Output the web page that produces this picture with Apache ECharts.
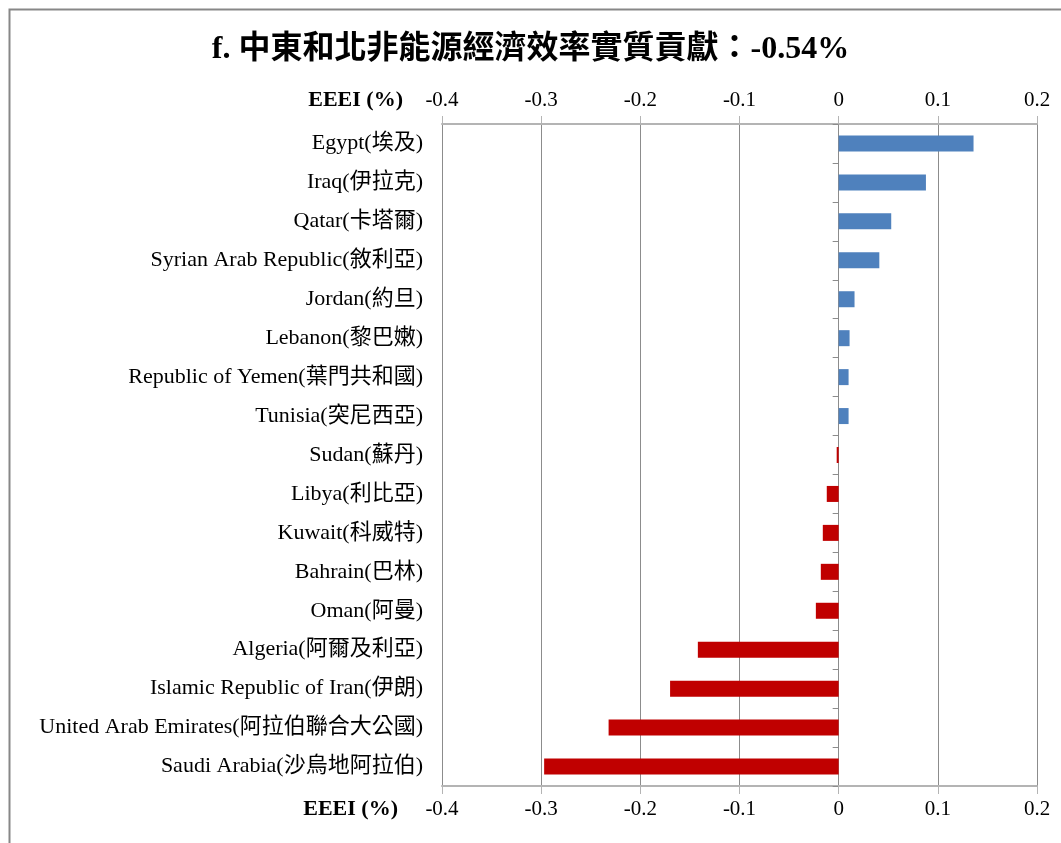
<!DOCTYPE html>
<html>
<head>
<meta charset="utf-8">
<script src="https://cdn.jsdelivr.net/npm/echarts@6/dist/echarts.min.js"></script>
<style>
  html, body { margin: 0; padding: 0; background: #ffffff; }
  #chart { width: 1061px; height: 843px; }
</style>
</head>
<body>
<div id="chart"></div>
<script>
// Contribution of energy-economy efficiency by country, Middle East & North Africa (%)
const titleText = 'f. 中東和北非能源經濟效率實質貢獻：-0.54%';
const axisName = 'EEEI (%)';

const countries = [
  'Egypt(埃及)',
  'Iraq(伊拉克)',
  'Qatar(卡塔爾)',
  'Syrian Arab Republic(敘利亞)',
  'Jordan(約旦)',
  'Lebanon(黎巴嫩)',
  'Republic of Yemen(葉門共和國)',
  'Tunisia(突尼西亞)',
  'Sudan(蘇丹)',
  'Libya(利比亞)',
  'Kuwait(科威特)',
  'Bahrain(巴林)',
  'Oman(阿曼)',
  'Algeria(阿爾及利亞)',
  'Islamic Republic of Iran(伊朗)',
  'United Arab Emirates(阿拉伯聯合大公國)',
  'Saudi Arabia(沙烏地阿拉伯)'
];

const eeei = [
  0.136, 0.088, 0.053, 0.041, 0.016, 0.011, 0.010, 0.010,
  -0.002, -0.012, -0.016, -0.018, -0.023, -0.142, -0.170, -0.232, -0.297
];

const xMin = -0.4;
const xMax = 0.2;
const xStep = 0.1;

const positiveColor = '#4f81bd';
const negativeColor = '#c00000';

const serif = "'Liberation Serif', 'Times New Roman', 'Noto Sans CJK TC', serif";

const gridLeft = 442, gridRight = 24, gridTop = 124, gridBottom = 57;
const plotWidth = 1061 - gridLeft - gridRight;
// shift of the tick-only category axis so it sits on x = 0
const zeroShift = (0 - xMin) / (xMax - xMin) * plotWidth;

const chart = echarts.init(document.getElementById('chart'), null, { renderer: 'canvas' });

const valueAxisBase = {
  type: 'value',
  min: xMin,
  max: xMax,
  interval: xStep,
  axisLine: { show: true, lineStyle: { color: '#b4b4b4', width: 2 } },
  axisTick: { show: true, length: 8, lineStyle: { color: '#b4b4b4', width: 1 } },
  axisLabel: {
    color: '#000',
    fontFamily: serif,
    fontSize: 21,
    margin: 13
  }
};

chart.setOption({
  animation: false,
  backgroundColor: '#ffffff',
  title: {
    text: titleText,
    left: 'center',
    top: 29,
    textStyle: {
      fontFamily: serif,
      fontWeight: 'bold',
      fontSize: 32,
      color: '#000'
    }
  },
  graphic: [
    {
      type: 'rect',
      left: 7, top: 7,
      shape: { width: 1100, height: 900 },
      style: { fill: 'none', stroke: '#878787', lineWidth: 2 },
      silent: true,
      z: 0
    },
    {
      type: 'text',
      right: 1061 - 403,
      top: 89,
      style: {
        text: axisName,
        fontFamily: serif,
        fontWeight: 'bold',
        fontSize: 22,
        fill: '#000'
      }
    },
    {
      type: 'text',
      right: 1061 - 398,
      top: 798,
      style: {
        text: axisName,
        fontFamily: serif,
        fontWeight: 'bold',
        fontSize: 22,
        fill: '#000'
      }
    }
  ],
  grid: {
    left: gridLeft,
    right: gridRight,
    top: gridTop,
    bottom: gridBottom,
    containLabel: false
  },
  xAxis: [
    Object.assign({}, valueAxisBase, {
      position: 'bottom',
      splitLine: { show: true, lineStyle: { color: '#8c8c8c', width: 1 } }
    }),
    Object.assign({}, valueAxisBase, {
      position: 'top',
      splitLine: { show: false }
    })
  ],
  yAxis: [
    {
      type: 'category',
      data: countries,
      inverse: true,
      position: 'left',
      axisLine: { show: false },
      axisTick: { show: false },
      axisLabel: {
        color: '#000',
        fontFamily: serif,
        fontSize: 22,
        margin: 19
      }
    },
    {
      type: 'category',
      data: countries,
      inverse: true,
      position: 'left',
      offset: -zeroShift,
      axisLine: { show: false },
      axisTick: { show: true, length: 6, lineStyle: { color: '#8c8c8c', width: 1 } },
      axisLabel: { show: false }
    }
  ],
  series: [
    {
      type: 'bar',
      xAxisIndex: 0,
      yAxisIndex: 0,
      data: eeei,
      barWidth: 16,
      itemStyle: {
        color: function (p) { return p.value >= 0 ? positiveColor : negativeColor; }
      }
    }
  ]
});
</script>
</body>
</html>
